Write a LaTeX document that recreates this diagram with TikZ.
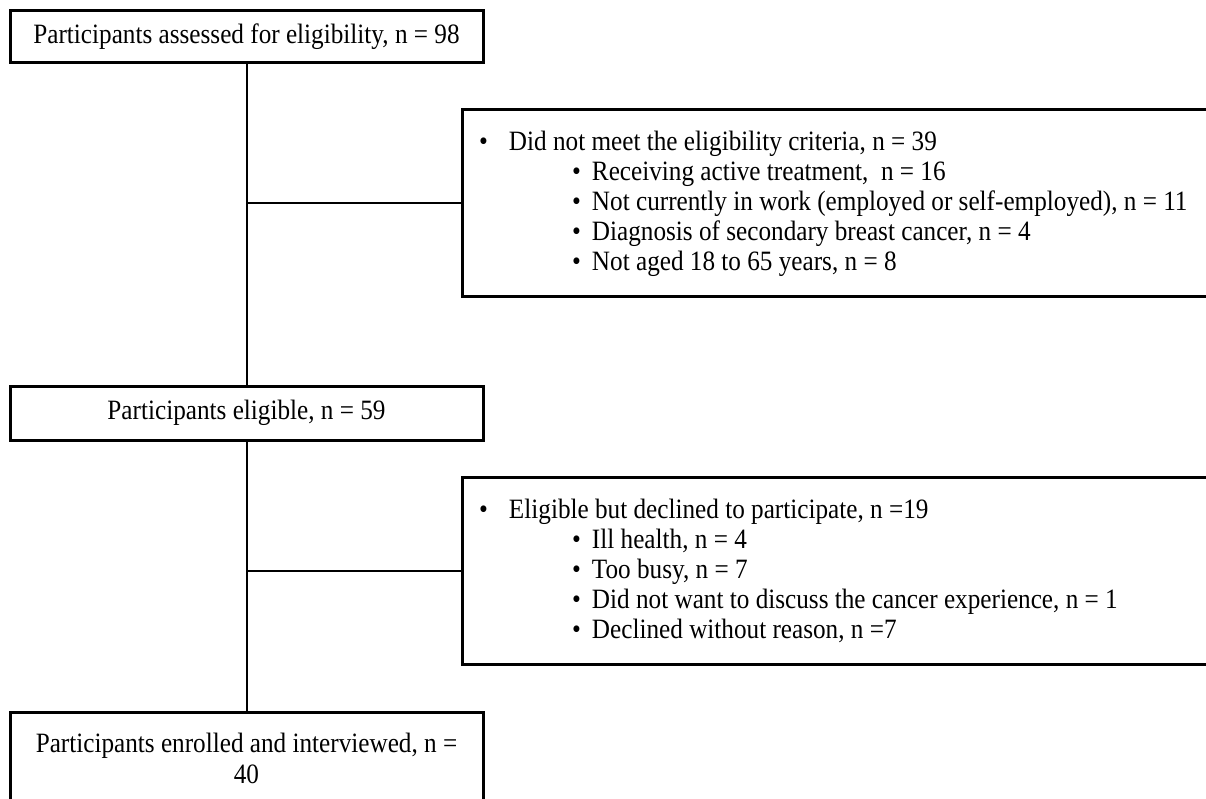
\documentclass[tikz,border=0pt]{standalone}
\usepackage{fontspec}
\setmainfont{Liberation Serif}[FakeStretch=0.9]
\usepackage{tikz}
\usetikzlibrary{positioning}

\newcommand{\listhead}[1]{\spaceskip=0pt\relax\makebox[30pt][l]{\textbullet}#1}
\newcommand{\listreason}[1]{\spaceskip=0pt\relax\hspace*{93pt}\makebox[20pt][l]{\textbullet}#1}

\begin{document}
\begin{tikzpicture}[
  x=1pt, y=-1pt,
  stagebox/.style={rectangle, draw, line width=3pt, outer sep=0pt, minimum width=473pt, font=\fontsize{28}{31}\selectfont, align=center},
  reasonbox/.style={rectangle, draw, line width=3pt, outer sep=0pt, anchor=north west, inner xsep=17pt, text width=734pt, minimum height=187pt, align=left, font=\fontsize{28}{30}\selectfont},
  link/.style={line width=2pt}
]
  \clip[use as bounding box] (0,0) rectangle (1206,799);

  % Stages (left column)
  \node[stagebox, anchor=north west, minimum height=52pt] (assessed) at (10,11) {Participants assessed\ for eligibility, n = 98};
  \node[stagebox, below=323pt of assessed, minimum height=54pt] (eligible) {Participants eligible, n = 59};
  \node[stagebox, below=272pt of eligible, minimum height=92pt] (enrolled) {Participants enrolled and interviewed, n =\\40};

  % Reasons (right column)
  \node[reasonbox] (excluded) at (462,110) {%
    \listhead{Did not meet the eligibility criteria, n = 39}\\
    \listreason{Receiving active treatment,\ \ n = 16}\\
    \listreason{Not currently in work (employed or self-employed), n = 11}\\
    \listreason{Diagnosis of secondary breast cancer, n = 4}\\
    \listreason{Not aged 18 to 65 years, n = 8}};
  \node[reasonbox] (declined) at (462,477) {%
    \listhead{Eligible but declined to participate, n =19}\\
    \listreason{Ill health, n = 4}\\
    \listreason{Too busy, n = 7}\\
    \listreason{Did not want to discuss the cancer experience, n = 1}\\
    \listreason{Declined without reason, n =7}};

  % Connectors
  \draw[link] (assessed) -- (eligible);
  \draw[link] (eligible) -- (enrolled);
  \draw[link] (excluded.west -| assessed.south) -- (excluded.west);
  \draw[link] (declined.west -| eligible.south) -- (declined.west);
\end{tikzpicture}
\end{document}
